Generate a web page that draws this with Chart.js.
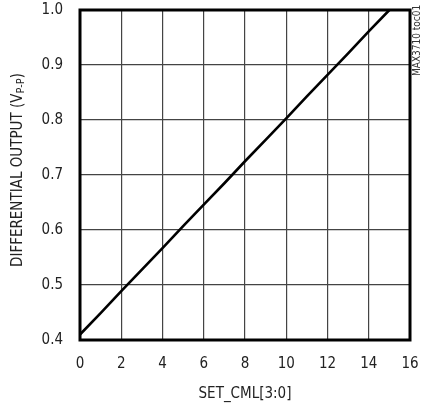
<!DOCTYPE html>
<html>
<head>
<meta charset="utf-8">
<script src="https://cdn.jsdelivr.net/npm/chart.js@4/dist/chart.umd.min.js"></script>
<style>
  html, body { margin: 0; padding: 0; background: #fff; }
  #wrap { width: 421px; height: 404px; position: relative; }
</style>
</head>
<body>
<div id="wrap"><canvas id="c" width="421" height="404"></canvas></div>
<script>
// SET_CML[3:0] code settings and the measured differential output swing
const cmlCodes = [0, 1, 2, 3, 4, 5, 6, 7, 8, 9, 10, 11, 12, 13, 14, 15];
const outputVpp = [0.410, 0.449, 0.489, 0.528, 0.567, 0.607, 0.646, 0.685, 0.725, 0.764, 0.803, 0.843, 0.882, 0.921, 0.961, 1.000];

const xTitle = 'SET_CML[3:0]';
const yTitleMain = 'DIFFERENTIAL OUTPUT (V';
const yTitleSub = 'P-P';
const yTitleEnd = ')';
const figureTag = 'MAX3710 toc01';

const FONT = "'Liberation Sans Narrow', 'Arial Narrow', 'DejaVu Sans Condensed', sans-serif";

// Frame, rotated y-axis title with subscript, and figure tag
const decorations = {
  id: 'decorations',
  afterDatasetsDraw(chart) {
    const { ctx, chartArea: a } = chart;
    ctx.save();
    ctx.strokeStyle = '#000';
    ctx.lineWidth = 3;
    ctx.strokeRect(a.left, a.top, a.right - a.left, a.bottom - a.top);
    ctx.restore();
  },
  afterDraw(chart) {
    const { ctx, chartArea: a } = chart;
    // y-axis title
    ctx.save();
    ctx.fillStyle = '#222';
    ctx.textBaseline = 'alphabetic';
    const big = '15px ' + FONT;
    const small = '11px ' + FONT;
    ctx.font = big;
    const w1 = ctx.measureText(yTitleMain).width;
    const w3 = ctx.measureText(yTitleEnd).width;
    ctx.font = small;
    const w2 = ctx.measureText(yTitleSub).width;
    const total = w1 + w2 + w3;
    const cy = (a.top + a.bottom) / 2 - 5;
    ctx.translate(22, cy);
    ctx.rotate(-Math.PI / 2);
    let x = -total / 2;
    ctx.font = big;
    ctx.fillText(yTitleMain, x, 0);
    x += w1;
    ctx.font = small;
    ctx.fillText(yTitleSub, x, 2);
    x += w2;
    ctx.font = big;
    ctx.fillText(yTitleEnd, x, 0);
    ctx.restore();

    // figure tag along the right edge, reading upward
    ctx.save();
    ctx.fillStyle = '#333';
    ctx.font = '10px ' + FONT;
    ctx.textBaseline = 'alphabetic';
    ctx.translate(420, 76);
    ctx.rotate(-Math.PI / 2);
    ctx.fillText(figureTag, 0, 0);
    ctx.restore();
  }
};

new Chart(document.getElementById('c'), {
  type: 'scatter',
  data: {
    datasets: [{
      data: cmlCodes.map((c, i) => ({ x: c, y: outputVpp[i] })),
      showLine: true,
      borderColor: '#000',
      borderWidth: 2.6,
      pointRadius: 0,
      tension: 0
    }]
  },
  options: {
    responsive: false,
    animation: false,
    devicePixelRatio: 1,
    layout: { padding: { top: 10, right: 11, left: 0, bottom: 0 } },
    plugins: { legend: { display: false }, tooltip: { enabled: false } },
    scales: {
      x: {
        type: 'linear',
        min: 0, max: 16,
        afterFit(s) { s.height = 64; s.paddingLeft = 0; s.paddingRight = 0; },
        ticks: {
          stepSize: 2,
          color: '#222',
          padding: 15,
          maxRotation: 0,
          font: { family: FONT, size: 15 }
        },
        grid: { color: '#444', lineWidth: 1.2, drawTicks: false },
        border: { display: false },
        title: {
          display: true,
          text: xTitle,
          color: '#222',
          font: { family: FONT, size: 15 },
          padding: { top: 0, bottom: 1 }
        }
      },
      y: {
        min: 0.4, max: 1.0,
        afterFit(s) { s.width = 80; s.paddingTop = 0; s.paddingBottom = 0; },
        ticks: {
          stepSize: 0.1,
          color: '#222',
          padding: 17,
          font: { family: FONT, size: 15 },
          callback: v => v.toFixed(1)
        },
        grid: { color: '#444', lineWidth: 1.2, drawTicks: false },
        border: { display: false }
      }
    }
  },
  plugins: [decorations]
});
</script>
</body>
</html>
